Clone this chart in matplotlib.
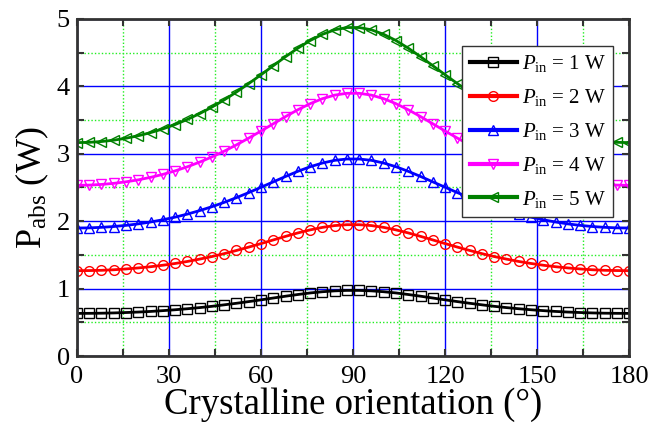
import numpy as np
import matplotlib
matplotlib.use('Agg')
import matplotlib.pyplot as plt
from matplotlib.ticker import MultipleLocator

plt.rcParams['font.family'] = 'Liberation Serif'
plt.rcParams['mathtext.fontset'] = 'custom'
plt.rcParams['mathtext.rm'] = 'Liberation Serif'
plt.rcParams['mathtext.it'] = 'Liberation Serif:italic'

# crystalline orientation (deg), every 4 degrees
angle = list(range(0, 181, 4))

p1 = [0.633, 0.634, 0.636, 0.640, 0.646, 0.653, 0.662, 0.674, 0.687, 0.702, 0.719, 0.738,
      0.760, 0.783, 0.808, 0.834, 0.861, 0.888, 0.913, 0.936, 0.954, 0.967, 0.974,
      0.974, 0.967, 0.954, 0.936, 0.913, 0.888, 0.861, 0.834, 0.808, 0.783, 0.760,
      0.738, 0.719, 0.702, 0.687, 0.674, 0.662, 0.653, 0.646, 0.640, 0.636, 0.634, 0.633]
p2 = [1.266, 1.268, 1.272, 1.280, 1.292, 1.307, 1.325, 1.347, 1.373, 1.403, 1.438, 1.476,
      1.519, 1.566, 1.616, 1.668, 1.722, 1.775, 1.826, 1.871, 1.908, 1.935, 1.948,
      1.948, 1.935, 1.908, 1.871, 1.826, 1.775, 1.722, 1.668, 1.616, 1.566, 1.519,
      1.476, 1.438, 1.403, 1.373, 1.347, 1.325, 1.307, 1.292, 1.280, 1.272, 1.268, 1.266]
p3 = [1.899, 1.901, 1.909, 1.921, 1.938, 1.960, 1.988, 2.021, 2.060, 2.105, 2.157, 2.215,
      2.279, 2.349, 2.424, 2.503, 2.583, 2.663, 2.739, 2.807, 2.862, 2.902, 2.922,
      2.922, 2.902, 2.862, 2.807, 2.739, 2.663, 2.583, 2.503, 2.424, 2.349, 2.279,
      2.215, 2.157, 2.105, 2.060, 2.021, 1.988, 1.960, 1.938, 1.921, 1.909, 1.901, 1.899]
p4 = [2.532, 2.535, 2.545, 2.561, 2.584, 2.613, 2.650, 2.694, 2.746, 2.807, 2.876, 2.953,
      3.038, 3.132, 3.232, 3.337, 3.444, 3.551, 3.652, 3.742, 3.816, 3.869, 3.896,
      3.896, 3.869, 3.816, 3.742, 3.652, 3.551, 3.444, 3.337, 3.232, 3.132, 3.038,
      2.953, 2.876, 2.807, 2.746, 2.694, 2.650, 2.613, 2.584, 2.561, 2.545, 2.535, 2.532]
p5 = [3.165, 3.169, 3.181, 3.201, 3.230, 3.267, 3.313, 3.368, 3.433, 3.509, 3.595, 3.691,
      3.798, 3.915, 4.040, 4.171, 4.305, 4.439, 4.565, 4.678, 4.770, 4.837, 4.871,
      4.871, 4.837, 4.770, 4.678, 4.565, 4.439, 4.305, 4.171, 4.040, 3.915, 3.798,
      3.691, 3.595, 3.509, 3.433, 3.368, 3.313, 3.267, 3.230, 3.201, 3.181, 3.169, 3.165]

series = [p1, p2, p3, p4, p5]
labels = [r'$P_{\mathrm{in}}$ = %d W' % n for n in range(1, 6)]
colors = ['black', 'red', 'blue', '#ff00ff', '#008000']
markers = ['s', 'o', '^', 'v', '<']

fig = plt.figure(figsize=(6.52, 4.28), dpi=100)
ax = fig.add_axes([0.118, 0.168, 0.847, 0.788])

for y, lab, c, m in zip(series, labels, colors, markers):
    ax.plot(angle, y, color=c, lw=2, marker=m, ms=7, mfc='none', mec=c, mew=1,
            label=lab)

ax.set_xlim(0, 180)
ax.set_ylim(0, 5)
ax.xaxis.set_major_locator(MultipleLocator(30))
ax.xaxis.set_minor_locator(MultipleLocator(15))
ax.yaxis.set_major_locator(MultipleLocator(1))
ax.yaxis.set_minor_locator(MultipleLocator(0.5))

ax.grid(which='major', color='blue', lw=1, ls='-')
ax.grid(which='minor', color='#22ee22', lw=1, ls=(0, (1, 1.5)))
ax.set_axisbelow(True)

ax.tick_params(which='both', direction='in', top=True, right=True, width=1.5,
               labelsize=19, colors='#333333', labelcolor='black')
ax.tick_params(which='major', length=5)
ax.tick_params(which='minor', length=5)
ax.tick_params(axis='x', pad=7)
ax.tick_params(axis='y', pad=5)
for s in ax.spines.values():
    s.set_linewidth(2)
    s.set_color('#333333')

ax.set_xlabel('Crystalline orientation (\u00b0)', fontsize=26.5, labelpad=0)
ax.set_ylabel(r'P$_{\mathrm{abs}}$ (W)', fontsize=26, labelpad=4)

leg = ax.legend(loc='upper right', bbox_to_anchor=(0.971, 0.92), fontsize=15,
                fancybox=False, edgecolor='#333333', framealpha=1,
                handlelength=2.3, handletextpad=0.2, labelspacing=0.62,
                borderpad=0.35, borderaxespad=0)
leg.get_frame().set_linewidth(1)
for h in leg.get_lines():
    h.set_linewidth(3)

fig.savefig('out.png', dpi=100)
